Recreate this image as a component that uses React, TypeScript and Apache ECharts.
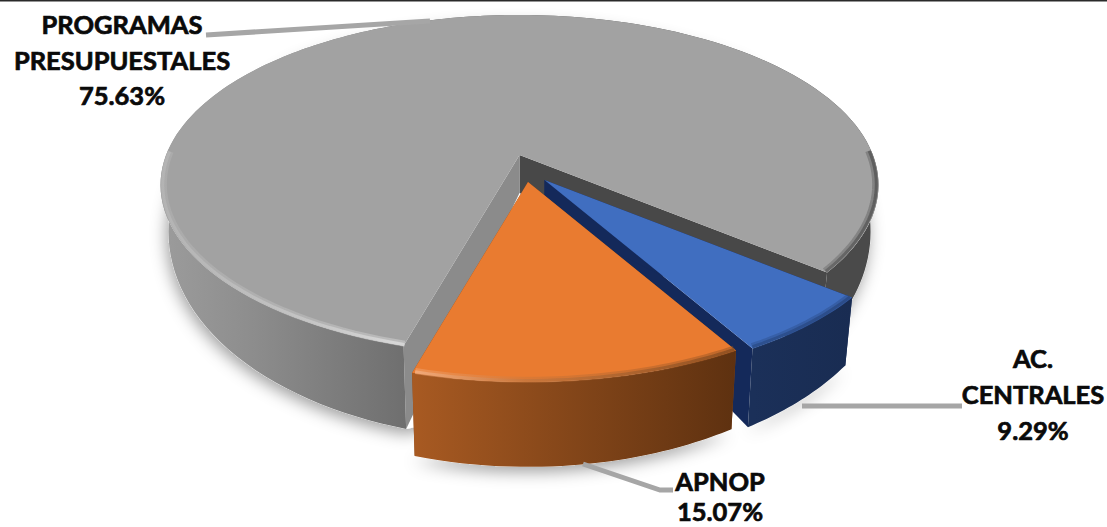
import React, { useEffect, useRef } from "react";
import * as echarts from "echarts";

const categories = ["PROGRAMAS PRESUPUESTALES", "AC. CENTRALES", "APNOP"];
const values = [75.63, 9.29, 15.07];
const labelLines = [["PROGRAMAS", "PRESUPUESTALES"], ["AC.", "CENTRALES"], ["APNOP"]];

const START = 206.7;
const CX = 519.5, CY = 155;
const RX = 353.4, RY = 164.7, K = 0.176;
const S = 0.978, D0 = 38, D1 = 47;
const OFFSET = [[0, 0], [25, 25], [8.5, 27]];
const TOP = ["#A2A2A2", "#406EC0", "#E97B30"];
const WALL: [number, string][][] = [
  [[0.0, "#9c9c9c"], [0.12, "#8e8e8e"], [0.34, "#6f6f6f"], [0.45, "#666666"], [0.9, "#4a4a4a"], [1, "#4a4a4a"]],
  [[0, "#1b3059"], [1, "#192c52"]],
  [[0, "#a85a22"], [1, "#5e3110"]],
];
const CUT_A = ["#8b8b8b", "#14295a", "#8a4a1c"];
const CUT_B = ["#484848", "#14295a", "#8a4a1c"];
const RIM: [number, string][][] = [
  [[0, "#b4b4b4"], [0.22, "#c8c8c8"], [0.33, "#dadada"], [0.4, "#c0c0c0"], [0.8, "#8a8a8a"], [0.9, "#6a6a6a"], [1, "#5a5a5a"]],
  [[0, "#2c4f8d"], [1, "#2a4a86"]],
  [[0, "#f4ad7e"], [0.35, "#c9773c"], [1, "#8c4e20"]],
];
const LEADERS = [
  [[206, 35], [430, 21]],
  [[802, 406], [962, 406]],
  [[583, 464], [660, 490], [673, 490]],
];
const LABEL_POS = [[122, 24], [1033, 358], [720, 481]];
const LINE_H = [35.5, 36, 30];

const warp = (t: number) => t - 12.5 * Math.sin((2 * (t - 147) * Math.PI) / 180);

function spanOf(i: number) {
  const total = values.reduce((a, b) => a + b, 0);
  let a = START;
  for (let j = 0; j < i; j++) a += (values[j] / total) * 360;
  return [a, a + (values[i] / total) * 360];
}
function top(i: number, t: number, r = 1) {
  const w = (warp(t) * Math.PI) / 180;
  const u = r * Math.sin(w), v = -r * Math.cos(w);
  const den = 1 - K * v;
  return { x: CX + OFFSET[i][0] + (RX * u) / den, y: CY + OFFSET[i][1] + (RY * v) / den, v };
}
function low(i: number, t: number, r = 1) {
  const p = top(i, t, r);
  const ax = CX + OFFSET[i][0];
  return { x: ax + S * (p.x - ax), y: p.y + D0 + D1 * Math.max(p.v, -0.7) };
}
function arc(fn: (i: number, t: number, r?: number) => { x: number; y: number }, i: number, a: number, b: number, r = 1) {
  const n = Math.max(2, Math.ceil(Math.abs(b - a) / 1.5));
  const out: number[][] = [];
  for (let k = 0; k <= n; k++) {
    const p = fn(i, a + ((b - a) * k) / n, r);
    out.push([p.x, p.y]);
  }
  return out;
}
const stopsOf = (stops: [number, string][]) => stops.map(([offset, color]) => ({ offset, color }));
const hGrad = (i: number, stops: [number, string][]) => {
  if (i === 0) return new echarts.graphic.LinearGradient(160, 0, 880, 0, stopsOf(stops), true);
  const [a, b] = spanOf(i);
  const x0 = top(i, a).x, x1 = top(i, b).x;
  return new echarts.graphic.LinearGradient(Math.min(x0, x1), 0, Math.max(x0, x1), 0, stopsOf(stops), true);
};

function renderShadow(params: any) {
  const i = params.dataIndex;
  const [a, b] = spanOf(i);
  return {
    type: "polygon",
    silent: true,
    shape: { points: arc(low, i, a, b) },
    style: { fill: "#ffffff", shadowColor: "rgba(0,0,0,0.38)", shadowBlur: 16, shadowOffsetX: -2, shadowOffsetY: 5 },
  };
}

function renderSlice(params: any) {
  const i = params.dataIndex;
  const [a, b] = spanOf(i);
  const c = top(i, a, 0), cl = low(i, a, 0);
  const pa = top(i, a), pb = top(i, b), la = low(i, a), lb = low(i, b);
  const topArc = arc(top, i, a, b);
  const lowArc = arc(low, i, a, b);
  const children: any[] = [];
  children.push({
    type: "polygon",
    shape: { points: [[c.x, c.y], [pb.x, pb.y], [lb.x, lb.y], [cl.x, cl.y]] },
    style: { fill: CUT_B[i] },
  });
  children.push({
    type: "polygon",
    shape: { points: [[c.x, c.y], [pa.x, pa.y], [la.x, la.y], [cl.x, cl.y]] },
    style: { fill: CUT_A[i] },
  });
  children.push({
    type: "polygon",
    shape: { points: [...topArc, ...lowArc.slice().reverse()] },
    style: { fill: hGrad(i, WALL[i]) },
  });
  children.push({
    type: "polygon",
    shape: { points: [[c.x, c.y], ...topArc] },
    style: { fill: TOP[i] },
  });
  const norm = (t: number) => ((t % 360) + 360) % 360;
  const nearRuns: number[][] = [];
  let run: number[] | null = null;
  for (let t = a; t <= b + 1e-6; t += 1) {
    const w = norm(warp(t));
    const near = w > 88 && w < 272;
    if (near) {
      if (!run) run = [t, t];
      else run[1] = t;
    } else if (run) {
      nearRuns.push(run);
      run = null;
    }
  }
  if (run) nearRuns.push(run);
  nearRuns.forEach(([x, y]) => {
    children.push({
      type: "polyline",
      shape: { points: arc(top, i, x, y, 0.991) },
      style: { fill: "none", stroke: hGrad(i, RIM[i]), lineWidth: 6, opacity: 0.45 },
    });
    children.push({
      type: "polyline",
      shape: { points: arc(top, i, x, y, 0.994) },
      style: { fill: "none", stroke: hGrad(i, RIM[i]), lineWidth: 3, opacity: 0.9 },
    });
  });
  return { type: "group", silent: true, children };
}

export default function App() {
  const ref = useRef<HTMLDivElement>(null);
  useEffect(() => {
    document.body.style.margin = "0";
    document.body.style.background = "#ffffff";
    const chart = echarts.init(ref.current!, undefined, { renderer: "svg" });
    const texts: any[] = [];
    categories.forEach((_, i) => {
      const lines = [...labelLines[i], `${values[i].toFixed(2)}%`];
      lines.forEach((line, k) => {
        texts.push({
          type: "text",
          x: LABEL_POS[i][0],
          y: LABEL_POS[i][1] + k * LINE_H[i],
          z: 20,
          silent: true,
          style: {
            text: line,
            fill: "#0a0a0a",
            stroke: "#0a0a0a",
            lineWidth: 0.7,
            font: 'bold 25.5px Lato, "Noto Sans", sans-serif',
            textAlign: "center",
            textVerticalAlign: "middle",
          },
        });
      });
    });
    const leaders = LEADERS.map((points) => ({
      type: "polyline",
      z: 10,
      silent: true,
      shape: { points },
      style: { fill: "none", stroke: "#A6A6A6", lineWidth: 5 },
    }));
    chart.setOption({
      animation: false,
      backgroundColor: "#ffffff",
      graphic: [
        { type: "rect", z: 10, silent: true, shape: { x: 0, y: 0, width: 1107, height: 1.5 }, style: { fill: "#2a2a2a" } },
        ...leaders,
        ...texts,
      ],
      series: [
        {
          type: "custom",
          coordinateSystem: "none",
          z: 1,
          silent: true,
          data: values.map((value, i) => ({ name: categories[i], value })),
          renderItem: renderShadow,
        },
        {
          type: "custom",
          coordinateSystem: "none",
          z: 2,
          silent: true,
          data: values.map((value, i) => ({ name: categories[i], value })),
          renderItem: renderSlice,
        },
      ],
    });
    return () => chart.dispose();
  }, []);
  return <div ref={ref} style={{ position: "fixed", left: 0, top: 0, width: 1107, height: 527 }} />;
}
